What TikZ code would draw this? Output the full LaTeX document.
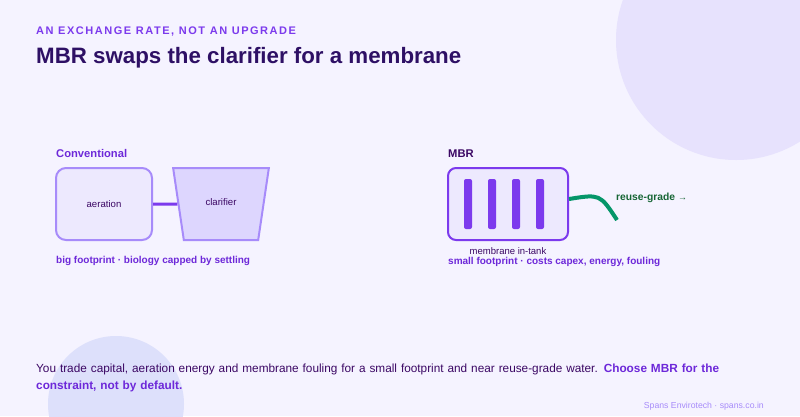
\documentclass[tikz,border=0pt]{standalone}
\usepackage{fontspec}
\setmainfont{Liberation Sans}
\usepackage{xcolor}
\usetikzlibrary{shapes.geometric,positioning,calc}
\definecolor{bgc}{HTML}{F5F3FF}
\definecolor{blobA}{HTML}{E7E2FD}
\definecolor{blobB}{HTML}{DDE0FB}
\definecolor{violet}{HTML}{7C3AED}
\definecolor{grape}{HTML}{6D28D9}
\definecolor{ink}{HTML}{3B0764}
\definecolor{night}{HTML}{2E1065}
\definecolor{lav}{HTML}{A78BFA}
\definecolor{pale}{HTML}{EDE9FE}
\definecolor{lilac}{HTML}{DDD6FE}
\definecolor{leaf}{HTML}{059669}
\definecolor{moss}{HTML}{166534}
\tikzset{
  tank/.style={rectangle, draw=lav, line width=2pt, rounded corners=10pt, fill=pale,
               minimum width=96pt, minimum height=72pt, align=center,
               font=\fontsize{9.6}{12}\selectfont, text=ink},
  settler/.style={trapezium, draw=lav, line width=2pt, fill=lilac, trapezium angle=72,
               shape border rotate=180, trapezium stretches=true, minimum width=96pt,
               minimum height=72pt, font=\fontsize{9.6}{12}\selectfont, text=ink},
  mbrtank/.style={rectangle, draw=violet, line width=2pt, rounded corners=8pt, fill=pale,
               minimum width=120pt, minimum height=72pt},
  memb/.style={rectangle, fill=violet, rounded corners=2pt, minimum width=8pt,
               minimum height=50pt, inner sep=0pt},
  hd/.style={anchor=base west, inner sep=0pt, font=\bfseries\fontsize{11.2}{13}\selectfont},
  note/.style={anchor=base west, inner sep=0pt, text=grape,
               font=\bfseries\fontsize{10}{12}\selectfont},
  link/.style={line width=3pt, draw=violet},
  flow/.style={line width=4pt, draw=leaf}
}
\begin{document}
\begin{tikzpicture}[x=1pt, y=-1pt]
  \fill[bgc] (0,0) rectangle (800,416);
  \useasboundingbox (0,0) rectangle (800,416);
  \begin{scope}
    \clip (0,0) rectangle (800,416);
    \fill[blobA] (736,40) circle (120pt);
    \fill[blobB] (116,404) circle (68pt);
  \end{scope}

  \node[anchor=base west, inner sep=0pt, text=violet,
        font=\bfseries\fontsize{11}{13}\selectfont\addfontfeature{LetterSpace=14}]
        (kick) at (36,34) {AN EXCHANGE RATE, NOT AN UPGRADE};
  \node[anchor=base west, inner sep=0pt, text=night,
        font=\bfseries\fontsize{22.3}{26}\selectfont] (title) at (36,63)
        {MBR swaps the clarifier for a membrane};

  \node[hd, text=grape] (conv) at (56,157) {Conventional};
  \node[tank] (a) at (104,204) {\raisebox{-2pt}{aeration}};
  \node[settler] (c) at (221,204) {\raisebox{3pt}{clarifier}};
  \draw[link] (a) -- (c);
  \node[note] (cnote) at (56,263) {big footprint · biology capped by settling};

  \node[hd, text=ink] (mbr) at (448,157) {MBR};
  \node[mbrtank] (m) at (508,204) {};
  \foreach \i in {0,...,3}
    \node[memb] (b\i) at (468+24*\i,204) {};
  \node[anchor=base, inner sep=0pt, text=ink, font=\fontsize{9.5}{11}\selectfont]
        (mlab) at (508,254) {membrane in-tank};
  \node[note] (mnote) at (448,264) {small footprint · costs capex, energy, fouling};
  \coordinate (out) at (617,220);
  \draw[flow] ($(m.east)+(0,-5)$) .. controls (600,194) .. (out);
  \node[anchor=base west, inner sep=0pt, text=moss,
        font=\bfseries\fontsize{10.3}{12}\selectfont] (rg) at (616,200)
        {reuse-grade {\mdseries\small →}};

  \node[anchor=north west, inner sep=0pt, text width=700pt, align=left, text=ink,
        font=\fontsize{11.8}{17}\selectfont] (sum) at (36,364)
        {You trade capital, aeration energy and membrane fouling for a small footprint
         and near reuse-grade water. \textcolor{grape}{\bfseries Choose MBR for the
         constraint, not by default.}};
  \node[anchor=base east, inner sep=0pt, text=lav, font=\fontsize{8.7}{10}\selectfont]
        (foot) at (764,408) {Spans Envirotech · spans.co.in};
\end{tikzpicture}
\end{document}
